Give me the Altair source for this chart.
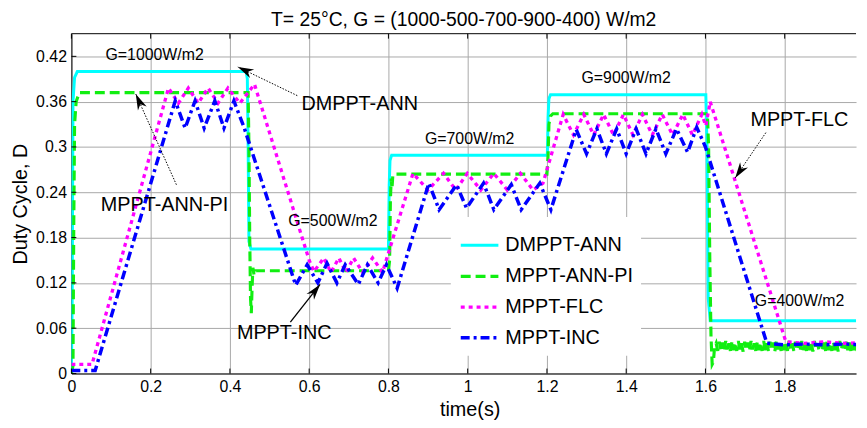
import math
import altair as alt
import pandas as pd

FONT = "Liberation Sans"

series_names = ["DMPPT-ANN", "MPPT-ANN-PI", "MPPT-FLC", "MPPT-INC"]
series_colors = ["#00ffff", "#11ee11", "#ff00ff", "#0000ff"]
series_dash = [[1, 0], [10, 5], [4, 4], [9, 4, 3, 4]]
series_width = [3, 3.5, 4, 3]

# DMPPT-ANN
ann_t = [0.0, 0.002, 0.004, 0.008, 0.015, 0.441, 0.444, 0.446, 0.448, 0.453, 0.800, 0.802, 0.804, 0.808,
         1.201, 1.203, 1.205, 1.209, 1.601, 1.604, 1.607, 1.612, 2.0]
ann_d = [0.0, 0.10, 0.36, 0.392, 0.400, 0.400, 0.39, 0.30, 0.175, 0.165, 0.165, 0.25, 0.282, 0.289,
         0.289, 0.34, 0.364, 0.369, 0.369, 0.30, 0.10, 0.070, 0.070]

# MPPT-ANN-PI
pi_t = [0.0, 0.004, 0.006, 0.008, 0.012, 0.020, 0.446, 0.448, 0.450, 0.452, 0.454, 0.456, 0.458, 0.461, 0.465,
        0.800, 0.803, 0.805, 0.807, 0.809, 0.811, 0.815, 1.200, 1.203, 1.205, 1.209, 1.215,
        1.605, 1.608, 1.611, 1.614, 1.617, 1.620, 1.623]
pi_d = [0.0, 0.01, 0.20, 0.33, 0.36, 0.372, 0.372, 0.30, 0.18, 0.10, 0.08, 0.115, 0.14, 0.13, 0.136,
        0.136, 0.15, 0.23, 0.258, 0.245, 0.262, 0.264, 0.264, 0.29, 0.33, 0.341, 0.344,
        0.344, 0.30, 0.15, 0.05, 0.012, 0.015, 0.035]
pi_tail_t = [1.627, 1.631, 1.635, 1.639, 1.643, 1.647, 1.651, 1.655, 1.659, 1.663, 1.667, 1.671, 1.675,
             1.679, 1.683, 1.687, 1.691, 1.695, 1.699, 1.703, 1.707, 1.711, 1.715, 1.719, 1.723, 1.727,
             1.731, 1.735, 1.739, 1.743, 1.747, 1.751, 1.755, 1.759, 1.763, 1.767, 1.771, 1.775, 1.779,
             1.783, 1.787, 1.791, 1.795, 1.799, 1.803, 1.807, 1.811, 1.815, 1.819, 1.823, 1.827, 1.831,
             1.835, 1.839, 1.843, 1.847, 1.851, 1.855, 1.859, 1.863, 1.867, 1.871, 1.875, 1.879, 1.883,
             1.887, 1.891, 1.895, 1.899, 1.903, 1.907, 1.911, 1.915, 1.919, 1.923, 1.927, 1.931, 1.935,
             1.939, 1.943, 1.947, 1.951, 1.955, 1.959, 1.963, 1.967, 1.971, 1.975, 1.979, 1.983]
pi_tail_d = [0.040, 0.030, 0.042, 0.031, 0.041, 0.029, 0.043, 0.032, 0.040, 0.030, 0.042, 0.031, 0.041,
             0.030, 0.043, 0.032, 0.040, 0.029, 0.042, 0.031, 0.041, 0.030, 0.043, 0.032, 0.040, 0.030,
             0.042, 0.031, 0.041, 0.030, 0.043, 0.031, 0.040, 0.030, 0.042, 0.031, 0.041, 0.029, 0.043,
             0.032, 0.040, 0.030, 0.042, 0.031, 0.041, 0.030, 0.043, 0.032, 0.040, 0.030, 0.042, 0.031,
             0.041, 0.030, 0.043, 0.031, 0.040, 0.030, 0.042, 0.031, 0.041, 0.029, 0.043, 0.032, 0.040,
             0.030, 0.042, 0.031, 0.041, 0.030, 0.043, 0.031, 0.040, 0.030, 0.042, 0.031, 0.041, 0.029,
             0.043, 0.032, 0.040, 0.030, 0.042, 0.031, 0.041, 0.030, 0.043, 0.031, 0.040, 0.030]

# MPPT-FLC
flc_t = [0.0, 0.052, 0.245, 0.270, 0.295, 0.320, 0.345, 0.370, 0.395, 0.425, 0.462,
         0.600, 0.612, 0.637, 0.655, 0.675, 0.693, 0.712, 0.735, 0.760, 0.785,
         0.862, 0.900, 0.939, 0.970, 0.999, 1.033, 1.066, 1.100, 1.133, 1.165, 1.190,
         1.241, 1.267, 1.293, 1.318, 1.343, 1.368, 1.393, 1.417, 1.441, 1.466, 1.491, 1.517, 1.543, 1.567, 1.591,
         1.601, 1.612, 1.803, 1.85, 1.90, 1.95, 2.0]
flc_d = [0.012, 0.012, 0.378, 0.358, 0.378, 0.358, 0.378, 0.358, 0.378, 0.358, 0.383,
         0.150, 0.135, 0.153, 0.134, 0.153, 0.134, 0.153, 0.134, 0.153, 0.134,
         0.265, 0.243, 0.265, 0.243, 0.265, 0.243, 0.265, 0.243, 0.265, 0.243, 0.252,
         0.343, 0.316, 0.343, 0.316, 0.343, 0.316, 0.343, 0.316, 0.343, 0.316, 0.343, 0.316, 0.343, 0.316, 0.343,
         0.328, 0.360, 0.042, 0.040, 0.042, 0.040, 0.041]

# MPPT-INC
inc_t = [0.0, 0.060, 0.262, 0.287, 0.312, 0.335, 0.362, 0.385, 0.410, 0.435,
         0.566, 0.595, 0.622, 0.645, 0.670, 0.691, 0.724, 0.747, 0.774, 0.795, 0.822,
         0.902, 0.928, 0.972, 0.997, 1.040, 1.066, 1.110, 1.135, 1.182, 1.210,
         1.274, 1.300, 1.326, 1.350, 1.376, 1.400, 1.425, 1.450, 1.475, 1.500, 1.527, 1.555, 1.578, 1.600,
         1.755, 1.80, 1.85, 1.90, 1.95, 2.0]
inc_d = [0.004, 0.004, 0.361, 0.325, 0.361, 0.325, 0.361, 0.325, 0.361, 0.327,
         0.117, 0.144, 0.120, 0.146, 0.120, 0.144, 0.118, 0.144, 0.120, 0.144, 0.113,
         0.252, 0.217, 0.250, 0.219, 0.252, 0.217, 0.250, 0.217, 0.252, 0.217,
         0.323, 0.291, 0.324, 0.291, 0.324, 0.291, 0.324, 0.291, 0.324, 0.291, 0.324, 0.293, 0.326, 0.300,
         0.040, 0.038, 0.039, 0.038, 0.039, 0.038]

x_ticks = [0, 0.2, 0.4, 0.6, 0.8, 1.0, 1.2, 1.4, 1.6, 1.8]
y_ticks = [0, 0.06, 0.12, 0.18, 0.24, 0.3, 0.36, 0.42]

g_labels = ["G=1000W/m2", "G=500W/m2", "G=700W/m2", "G=900W/m2", "G=400W/m2"]
g_t = [0.21, 0.66, 1.005, 1.40, 1.8375]
g_d = [0.4215, 0.202, 0.311, 0.391, 0.096]

m_labels = ["DMPPT-ANN", "MPPT-ANN-PI", "MPPT-INC", "MPPT-FLC"]
m_t = [0.7275, 0.235, 0.537, 1.837]
m_d = [0.357, 0.223, 0.054, 0.335]

arrow_tail_t = [0.57, 0.265, 0.5525, 1.7525]
arrow_tail_d = [0.368, 0.25, 0.068, 0.319]
arrow_tip_t = [0.42, 0.1625, 0.6275, 1.675]
arrow_tip_d = [0.406, 0.37, 0.118, 0.259]
arrow_dotted = [True, True, False, True]

W, H = 792, 343
XMAX, YMAX = 1.98, 0.45
sx, sy = W / XMAX, H / YMAX

rows = []
for name, ts, ds in [(series_names[0], ann_t, ann_d),
                     (series_names[1], pi_t + pi_tail_t, pi_d + pi_tail_d),
                     (series_names[2], flc_t, flc_d),
                     (series_names[3], inc_t, inc_d)]:
    for i, (t, d) in enumerate(zip(ts, ds)):
        rows.append({"series": name, "t": t, "d": d, "idx": i})
lines_df = pd.DataFrame(rows)

g_df = pd.DataFrame({"label": g_labels, "t": g_t, "d": g_d})
m_df = pd.DataFrame({"label": m_labels, "t": m_t, "d": m_d})

angles = []
for a, b, c, e in zip(arrow_tail_t, arrow_tail_d, arrow_tip_t, arrow_tip_d):
    dx = (c - a) * sx
    dy = -(e - b) * sy
    angles.append(math.degrees(math.atan2(dx, -dy)) % 360)
arrow_df = pd.DataFrame({"t": arrow_tail_t, "d": arrow_tail_d, "t2": arrow_tip_t, "d2": arrow_tip_d,
                         "dotted": arrow_dotted, "tip_t": arrow_tip_t, "tip_d": arrow_tip_d, "angle": angles})

xscale = alt.Scale(domain=[0, XMAX], nice=False, zero=False)
yscale = alt.Scale(domain=[0, YMAX], nice=False, zero=False)

legend = alt.Legend(orient="none", legendX=383, legendY=185, title=None, fillColor="white",
                    padding=8, rowPadding=-13, symbolType="stroke", symbolSize=1444,
                    symbolStrokeWidth=3.5, labelFont=FONT, labelFontSize=20, labelOffset=5,
                    labelLimit=300, labelColor="black")

xaxis = alt.Axis(values=x_ticks, format=".1~f", labelFlush=False, labelOverlap=False, labelPadding=5,
                 ticks=False, title="time(s)", titleX=402, titleY=42, titleBaseline="alphabetic",
                 titleAlign="center")
yaxis = alt.Axis(values=y_ticks, format=".2~f", labelFlush=False, labelOverlap=False, labelPadding=5,
                 ticks=False, title="Duty Cycle, D", titleAngle=270, titleX=-45, titleY=171.5,
                 titleAlign="center", titleBaseline="alphabetic")

lines = alt.Chart(lines_df).mark_line(clip=True).encode(
    x=alt.X("t:Q", scale=xscale, axis=xaxis),
    y=alt.Y("d:Q", scale=yscale, axis=yaxis),
    color=alt.Color("series:N", scale=alt.Scale(domain=series_names, range=series_colors), legend=legend),
    strokeDash=alt.StrokeDash("series:N", scale=alt.Scale(domain=series_names, range=series_dash), legend=legend),
    strokeWidth=alt.StrokeWidth("series:N", scale=alt.Scale(domain=series_names, range=series_width), legend=None),
    order=alt.Order("idx:Q"),
)

g_text = alt.Chart(g_df).mark_text(font=FONT, fontSize=16, color="black", align="center", baseline="middle").encode(
    x="t:Q", y="d:Q", text="label:N")
m_text = alt.Chart(m_df).mark_text(font=FONT, fontSize=20, color="black", align="center", baseline="middle").encode(
    x="t:Q", y="d:Q", text="label:N")

arrow_dot = alt.Chart(arrow_df).transform_filter("datum.dotted").mark_rule(
    color="black", strokeWidth=1, strokeDash=[1.5, 1.5]).encode(x="t:Q", y="d:Q", x2="t2:Q", y2="d2:Q")
arrow_solid = alt.Chart(arrow_df).transform_filter("!datum.dotted").mark_rule(
    color="black", strokeWidth=1.3).encode(x="t:Q", y="d:Q", x2="t2:Q", y2="d2:Q")
heads = alt.Chart(arrow_df).mark_point(
    shape="M0,0 L0.6,2 L0,1.4 L-0.6,2 Z", filled=True, color="black", opacity=1, size=256, strokeWidth=0
).encode(x="tip_t:Q", y="tip_d:Q", angle=alt.Angle("angle:Q", scale=None))

xt_df = pd.DataFrame({"t": x_ticks})
yt_df = pd.DataFrame({"d": y_ticks})
bt = alt.Chart(xt_df).mark_rule(color="black", strokeWidth=1).encode(x="t:Q", y=alt.value(H), y2=alt.value(H - 5))
tt = alt.Chart(xt_df).mark_rule(color="black", strokeWidth=1).encode(x="t:Q", y=alt.value(0), y2=alt.value(5))
lt = alt.Chart(yt_df).mark_rule(color="black", strokeWidth=1).encode(y="d:Q", x=alt.value(0), x2=alt.value(5))
top_border = alt.Chart(xt_df.head(1)).mark_rule(color="black", strokeWidth=1).encode(
    x=alt.value(0), x2=alt.value(W), y=alt.value(0))

chart = alt.layer(lines, g_text, m_text, arrow_dot, arrow_solid, heads, bt, tt, lt, top_border).properties(
    width=W, height=H,
    autosize=alt.AutoSizeParams(type="none"),
    padding={"left": 64, "top": 24, "right": 3, "bottom": 45},
    title=alt.TitleParams("T= 25°C, G = (1000-500-700-900-400) W/m2", font=FONT, fontSize=19.5,
                          fontWeight="normal", color="black", anchor="middle", offset=3),
).configure_view(stroke=None).configure_axis(
    grid=True, gridColor="#a8a8a8", gridWidth=1, domainColor="black", domainWidth=1,
    labelFont=FONT, labelFontSize=16, labelColor="black",
    titleFont=FONT, titleFontSize=20, titleFontWeight="normal", titleColor="black",
)

chart.save("out.html", embed_options={"renderer": "svg", "actions": False})
